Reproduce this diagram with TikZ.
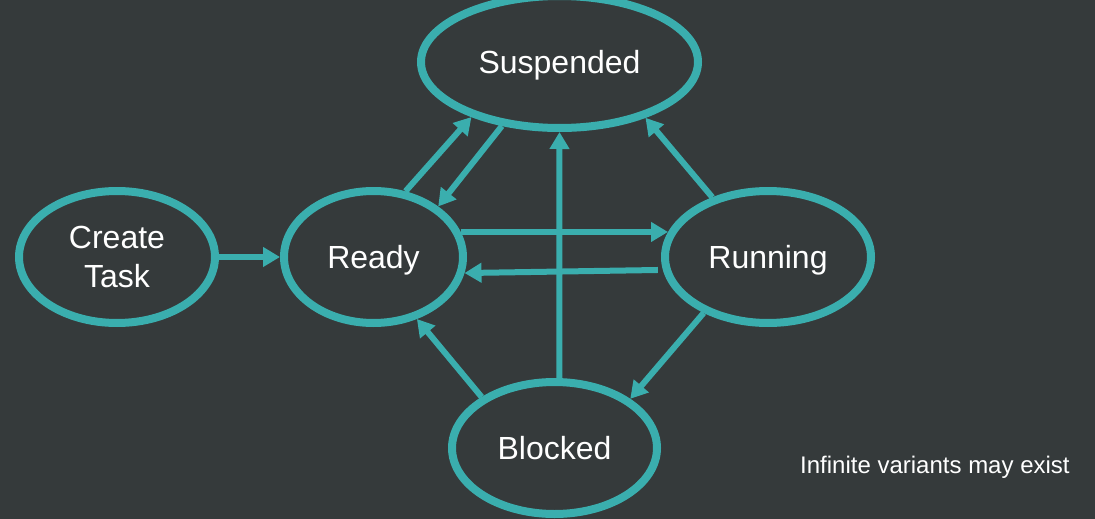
\documentclass[tikz,border=0pt]{standalone}
\usepackage{fontspec}
\setmainfont{Liberation Sans}
\usetikzlibrary{shapes.geometric,arrows.meta}
\definecolor{bgc}{HTML}{353A3B}
\definecolor{tealc}{HTML}{3AAEAE}
\begin{document}
\begin{tikzpicture}[x=1pt,y=-1pt,
  state/.style={ellipse,draw=tealc,line width=8pt,minimum height=132pt,inner sep=0pt,
    text=white,font=\fontsize{32}{39}\selectfont,align=center},
  single/.style={text height=23pt,text depth=0pt},
  conn/.style={draw=tealc,line width=6pt,-{Triangle[length=17pt,width=19pt]}}]
\fill[bgc] (0,0) rectangle (1095,519);
\useasboundingbox (0,0) rectangle (1095,519);
\node[state,minimum width=196pt] (create) at (117,257) {Create\\Task};
\node[state,single,minimum width=179pt] (ready) at (373.5,257) {Ready};
\node[state,single,minimum width=206pt] (running) at (768,257) {Running};
\node[state,single,minimum width=205pt] (blocked) at (554.5,448) {Blocked};
\node[state,single,minimum width=277pt] (susp) at (559.5,62) {Suspended};
\node[anchor=base west,text=white,font=\fontsize{24}{28}\selectfont,inner sep=0pt] (note) at (800,473) {Infinite variants may exist};
\draw[conn] (create.east) -- (ready.west);
\draw[conn] (ready.64) -- (susp.212.6);
\draw[conn] (susp.228.9) -- (ready.38.9);
\draw[conn] (ready.16) -- ([xshift=7pt]ready.16 -| running.west);
\draw[conn,shorten <=5pt] (running.187.05) -- (ready.350);
\draw[conn] (blocked.86.3) -- (susp.270);
\draw[conn] (running.133) -- (susp.327);
\draw[conn] (running.221.1) -- (blocked.33.5);
\draw[conn] (blocked.145.8) -- (ready.305.4);
\end{tikzpicture}
\end{document}
